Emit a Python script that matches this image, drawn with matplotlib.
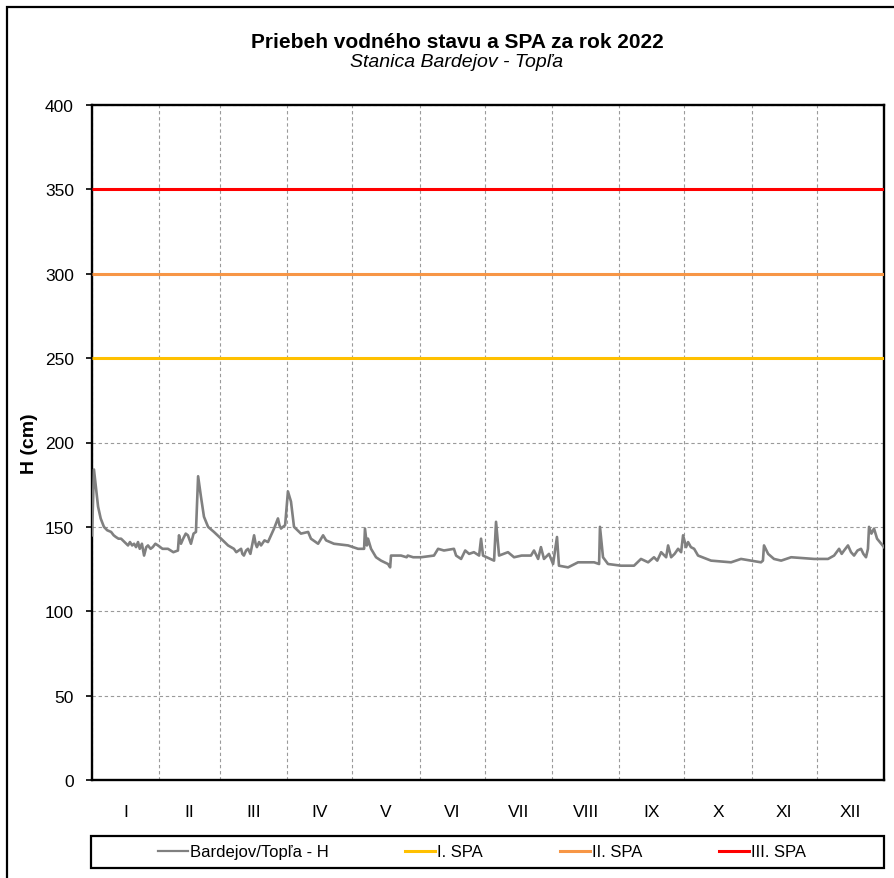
import matplotlib
matplotlib.use("Agg")
import matplotlib.pyplot as plt
from matplotlib.lines import Line2D
from matplotlib.patches import Rectangle

plt.rcParams['font.family'] = ['Liberation Sans', 'DejaVu Sans']

# ---- data (day of year, water level H in cm), rows of 10 ----
days = [
    0, 0.9, 2.8, 4.0, 5.5, 7.0, 8.8, 10.0, 11.0, 12.2,
    13.4, 15.0, 16.6, 17.5, 18.5, 19.4, 20.3, 21.2, 22.0, 23.0,
    24.0, 25.0, 25.8, 27.0, 28.0, 29.2, 30.4, 32.5, 35.0, 37.5,
    39.6, 40.1, 41.0, 42.0, 43.2, 44.2, 45.6, 46.8, 47.9, 48.9,
    50.2, 51.6, 53.5, 56.2, 59.5, 62.7, 65.4, 66.5, 68.7, 69.3,
    70.0, 71.0, 71.9, 73.0, 74.7, 75.4, 76.0, 77.0, 77.9, 79.5,
    81.1, 82.5, 83.9, 85.7, 86.4, 87.1, 88.0, 89.0, 90.3, 91.7,
    93.1, 96.3, 99.6, 100.9, 104.2, 106.5, 107.9, 111.5, 118.0, 122.6,
    125.4, 125.8, 126.7, 127.2, 128.6, 130.9, 133.2, 136.4, 137.4, 137.8,
    142.4, 145.0, 145.5, 148.0, 151.6, 157.6, 159.5, 162.2, 166.8, 167.8,
    170.1, 172.0, 173.8, 176.0, 178.4, 179.3, 180.2, 185.3, 186.2, 187.6,
    191.7, 194.5, 198.0, 202.3, 203.7, 205.6, 206.9, 208.3, 210.6, 212.5,
    214.3, 215.2, 219.4, 224.0, 231.4, 233.7, 234.1, 235.5, 237.8, 243.8,
    249.8, 253.0, 256.3, 259.0, 260.5, 262.3, 264.6, 265.5, 266.9, 268.5,
    270.1, 271.5, 272.4, 273.8, 274.7, 276.0, 277.5, 279.3, 285.3, 294.5,
    299.1, 308.3, 309.2, 309.7, 311.6, 314.3, 317.6, 322.2, 332.8, 339.2,
    342.0, 344.3, 345.5, 346.6, 348.4, 349.8, 351.2, 352.8, 354.4, 355.5,
    356.7, 357.6, 358.1, 359.2, 360.4, 361.8, 363.7, 365.0,
]
level = [
    145, 184, 162, 155, 150, 148, 147, 145, 144, 143,
    143, 141, 139, 141, 139, 140, 138, 141, 137, 140,
    133, 138, 139, 137, 138, 140, 139, 137, 137, 135,
    136, 145, 140, 143, 146, 145, 140, 146, 147, 180,
    168, 156, 150, 147, 143, 139, 137, 135, 137, 134,
    133, 136, 137, 134, 145, 140, 138, 141, 139, 142,
    141, 145, 149, 155, 151, 149, 150, 151, 171, 165,
    150, 146, 147, 143, 140, 145, 142, 140, 139, 137,
    137, 149, 139, 143, 137, 132, 130, 128, 126, 133,
    133, 132, 133, 132, 132, 133, 137, 136, 137, 133,
    131, 136, 134, 135, 133, 143, 133, 130, 153, 133,
    135, 132, 133, 133, 136, 131, 138, 131, 134, 128,
    144, 127, 126, 129, 129, 128, 150, 132, 128, 127,
    127, 131, 129, 132, 130, 135, 132, 139, 132, 134,
    137, 135, 145, 138, 141, 138, 137, 133, 130, 129,
    131, 129, 130, 139, 134, 131, 130, 132, 131, 131,
    133, 137, 134, 136, 139, 135, 133, 136, 137, 134,
    132, 137, 150, 146, 149, 143, 140, 138,
]

spa_levels = [250, 300, 350]
spa_labels = ["I. SPA", "II. SPA", "III. SPA"]
spa_colors = ["#FFC000", "#F79646", "#FF0000"]
series_label = "Bardejov/Topľa - H"

month_bounds = [0, 31, 59, 90, 120, 151, 181, 212, 243, 273, 304, 334, 365]
month_labels = ["I", "II", "III", "IV", "V", "VI", "VII", "VIII", "IX", "X", "XI", "XII"]

W, H = 895, 879
fig = plt.figure(figsize=(W / 100, H / 100), dpi=100)
ax = fig.add_axes([92 / W, 1 - 781 / H, (884 - 92) / W, (781 - 106) / H])

ax.set_xlim(0, 365)
ax.set_ylim(0, 400)

for lvl, col in zip(spa_levels, spa_colors):
    ax.plot([0, 365], [lvl, lvl], color=col, lw=2.2, zorder=3, solid_capstyle='butt')
ax.plot(days, level, color="#808080", lw=1.9, zorder=4)

# grid
ax.set_yticks(range(0, 401, 50))
ax.set_xticks(month_bounds, minor=False)
ax.set_xticklabels([])
ax.grid(True, which='major', color='#9a9a9a', linestyle=(0, (3, 2.5)), lw=0.8)
ax.tick_params(axis='x', length=0)
ax.tick_params(axis='y', length=4, width=1.2, labelsize=12.5, pad=9)
centers = [(a + b) / 2 for a, b in zip(month_bounds[:-1], month_bounds[1:])]
ax.set_xticks(centers, minor=True)
ax.set_xticklabels(month_labels, minor=True, fontsize=12.5)
ax.tick_params(axis='x', which='minor', length=0, pad=17)

for s in ax.spines.values():
    s.set_linewidth(1.7)
    s.set_color('black')

ax.set_ylabel("H (cm)", fontsize=14, fontweight='bold')
ax.yaxis.set_label_coords((38 - 92) / (884 - 92), 0.5)

cx = 457 / W
fig.text(cx, 1 - 48 / H, "Priebeh vodného stavu a SPA za rok 2022",
         ha='center', va='baseline', fontsize=15, fontweight='bold')
fig.text(cx, 1 - 67 / H, "Stanica Bardejov - Topľa",
         ha='center', va='baseline', fontsize=14, style='italic')

handles = [Line2D([], [], color="#808080", lw=1.6)] + \
          [Line2D([], [], color=c, lw=2.2) for c in spa_colors]
labels = [series_label] + spa_labels
leg = fig.legend(handles, labels, loc='center', ncol=4,
                 bbox_to_anchor=(482 / W, 1 - 853 / H),
                 fontsize=12, frameon=False,
                 handlelength=1.8, handletextpad=0.12, columnspacing=4.6,
                 borderaxespad=0, borderpad=0)

fig.patches.append(Rectangle((91 / W, 1 - 869 / H), (884 - 91) / W, (869 - 837) / H,
                             transform=fig.transFigure, fill=False, edgecolor='black', lw=1.6))
fig.patches.append(Rectangle((7 / W, -0.05), 1.0, 1 - 8 / H + 0.05, transform=fig.transFigure,
                             fill=False, edgecolor='black', lw=1.6))

fig.savefig("out.png", dpi=100)
